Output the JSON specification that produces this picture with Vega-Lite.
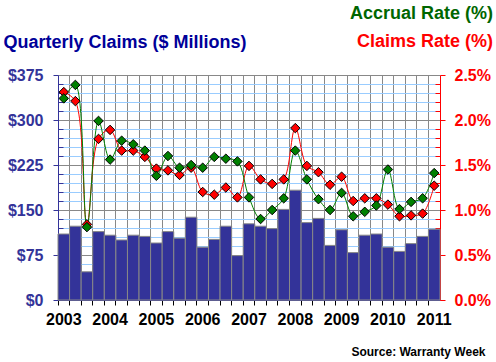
{
  "$schema": "https://vega.github.io/schema/vega-lite/v6.json",
  "width": 382,
  "height": 225,
  "autosize": {"type": "none"},
  "padding": {"left": 58, "top": 75, "right": 56, "bottom": 62},
  "background": "white",
  "config": {"view": {"stroke": null}, "font": "Liberation Sans"},
  "title": {
    "text": "Accrual Rate (%)",
    "subtitle": "Claims Rate (%)",
    "anchor": "end",
    "frame": "group",
    "dx": 53,
    "offset": -18,
    "color": "#006600",
    "subtitleColor": "#ff0000",
    "fontSize": 18,
    "subtitleFontSize": 18,
    "font": "Liberation Sans",
    "subtitleFont": "Liberation Sans",
    "fontWeight": "bold",
    "subtitleFontWeight": "bold",
    "subtitlePadding": 10
  },
  "data": {
    "values": [
      {"q": "2003Q1", "claims": 110, "claimsRate": 2.31, "accrualRate": 2.24},
      {"q": "2003Q2", "claims": 123, "claimsRate": 2.21, "accrualRate": 2.39},
      {"q": "2003Q3", "claims": 47, "claimsRate": 0.84, "accrualRate": 0.81},
      {"q": "2003Q4", "claims": 114, "claimsRate": 1.79, "accrualRate": 1.99},
      {"q": "2004Q1", "claims": 108, "claimsRate": 1.89, "accrualRate": 1.56},
      {"q": "2004Q2", "claims": 100, "claimsRate": 1.66, "accrualRate": 1.77},
      {"q": "2004Q3", "claims": 108, "claimsRate": 1.66, "accrualRate": 1.73},
      {"q": "2004Q4", "claims": 106, "claimsRate": 1.59, "accrualRate": 1.66},
      {"q": "2005Q1", "claims": 95, "claimsRate": 1.46, "accrualRate": 1.38},
      {"q": "2005Q2", "claims": 114, "claimsRate": 1.44, "accrualRate": 1.60},
      {"q": "2005Q3", "claims": 103, "claimsRate": 1.39, "accrualRate": 1.47},
      {"q": "2005Q4", "claims": 138, "claimsRate": 1.47, "accrualRate": 1.50},
      {"q": "2006Q1", "claims": 88, "claimsRate": 1.20, "accrualRate": 1.47},
      {"q": "2006Q2", "claims": 101, "claimsRate": 1.17, "accrualRate": 1.59},
      {"q": "2006Q3", "claims": 123, "claimsRate": 1.25, "accrualRate": 1.57},
      {"q": "2006Q4", "claims": 74, "claimsRate": 1.14, "accrualRate": 1.54},
      {"q": "2007Q1", "claims": 127, "claimsRate": 1.49, "accrualRate": 1.14},
      {"q": "2007Q2", "claims": 123, "claimsRate": 1.34, "accrualRate": 0.90},
      {"q": "2007Q3", "claims": 119, "claimsRate": 1.29, "accrualRate": 1.00},
      {"q": "2007Q4", "claims": 151, "claimsRate": 1.34, "accrualRate": 1.13},
      {"q": "2008Q1", "claims": 183, "claimsRate": 1.91, "accrualRate": 1.66},
      {"q": "2008Q2", "claims": 129, "claimsRate": 1.49, "accrualRate": 1.34},
      {"q": "2008Q3", "claims": 136, "claimsRate": 1.42, "accrualRate": 1.12},
      {"q": "2008Q4", "claims": 91, "claimsRate": 1.28, "accrualRate": 1.00},
      {"q": "2009Q1", "claims": 117, "claimsRate": 1.37, "accrualRate": 1.19},
      {"q": "2009Q2", "claims": 79, "claimsRate": 1.10, "accrualRate": 0.93},
      {"q": "2009Q3", "claims": 108, "claimsRate": 1.13, "accrualRate": 0.98},
      {"q": "2009Q4", "claims": 110, "claimsRate": 1.13, "accrualRate": 1.05},
      {"q": "2010Q1", "claims": 88, "claimsRate": 1.06, "accrualRate": 1.45},
      {"q": "2010Q2", "claims": 81, "claimsRate": 0.93, "accrualRate": 1.01},
      {"q": "2010Q3", "claims": 94, "claimsRate": 0.94, "accrualRate": 1.09},
      {"q": "2010Q4", "claims": 106, "claimsRate": 0.96, "accrualRate": 1.13},
      {"q": "2011Q1", "claims": 118, "claimsRate": 1.27, "accrualRate": 1.41}
    ]
  },
  "encoding": {
    "x": {
      "field": "q",
      "type": "ordinal",
      "sort": null,
      "scale": {"type": "band", "paddingInner": 0, "paddingOuter": 0},
      "axis": {
        "title": "Source: Warranty Week",
        "titleX": 427,
        "titleY": 51,
        "titleAlign": "right",
        "titleAnchor": null,
        "titleBaseline": "middle",
        "titleFontSize": 12,
        "titleFont": "Liberation Sans",
        "titleFontWeight": "bold",
        "titleColor": "black",
        "bandPosition": 0,
        "labelExpr": "substring(datum.value,4)=='Q1' ? substring(datum.value,0,4) : ''",
        "labelAngle": 0,
        "labelDx": 5.8,
        "labelFontSize": 16,
        "labelFontWeight": "bold",
        "labelColor": "black",
        "labelFont": "Liberation Sans",
        "labelPadding": 6,
        "labelOverlap": false,
        "labelBound": false,
        "grid": true,
        "gridColor": "#888888",
        "gridWidth": 1,
        "tickColor": "black",
        "tickSize": 5,
        "domainColor": "#333399"
      }
    }
  },
  "layer": [
    {
      "mark": {"type": "bar", "color": "#333399", "stroke": "#888888", "strokeWidth": 1},
      "encoding": {
        "y": {
          "field": "claims",
          "type": "quantitative",
          "scale": {"domain": [0, 375], "nice": false},
          "axis": {
            "values": [0, 15, 30, 45, 60, 75, 90, 105, 120, 135, 150, 165, 180, 195, 210, 225, 240, 255, 270, 285, 300, 315, 330, 345, 360, 375],
            "labelExpr": "datum.value % 75 === 0 ? '$' + datum.value : ''",
            "labelOverlap": false,
            "title": "Quarterly Claims ($ Millions)",
            "titleAngle": 0,
            "titleAlign": "left",
            "titleBaseline": "middle",
            "titleX": -55,
            "titleY": -33,
            "titleFontSize": 18,
            "titleFont": "Liberation Sans",
            "titleFontWeight": "bold",
            "titleColor": "#000099",
            "labelFontSize": 16,
            "labelFont": "Liberation Sans",
            "labelFontWeight": "bold",
            "labelColor": "#333399",
            "labelPadding": 10,
            "domainColor": "#333399",
            "tickColor": "#333399",
            "tickSize": {"condition": {"test": "datum.value % 75 === 0", "value": 5}, "value": -5},
            "grid": true,
            "gridColor": {"condition": {"test": "datum.value % 75 === 0", "value": "#888888"}, "value": "#99ccff"}
          }
        }
      }
    },
    {
      "transform": [{"fold": ["claimsRate", "accrualRate"], "as": ["series", "rate"]}],
      "encoding": {
        "y": {
          "field": "rate",
          "type": "quantitative",
          "scale": {"domain": [0, 2.5], "nice": false},
          "axis": {
            "orient": "right",
            "values": [0, 0.1, 0.2, 0.3, 0.4, 0.5, 0.6, 0.7, 0.8, 0.9, 1.0, 1.1, 1.2, 1.3, 1.4, 1.5, 1.6, 1.7, 1.8, 1.9, 2.0, 2.1, 2.2, 2.3, 2.4, 2.5],
            "labelExpr": "abs(datum.value*2 - round(datum.value*2)) < 0.001 ? format(datum.value, '.1f') + '%' : ''",
            "labelOverlap": false,
            "title": null,
            "grid": false,
            "labelFontSize": 16,
            "labelFont": "Liberation Sans",
            "labelFontWeight": "bold",
            "labelColor": "#ff0000",
            "labelPadding": 9,
            "domainColor": "#ff0000",
            "tickColor": "#ff0000",
            "tickSize": {"condition": {"test": "abs(datum.value*2 - round(datum.value*2)) < 0.001", "value": 5}, "value": -5}
          }
        },
        "color": {
          "field": "series",
          "type": "nominal",
          "scale": {"domain": ["claimsRate", "accrualRate"], "range": ["#ff0000", "#008000"]},
          "legend": null
        }
      },
      "layer": [
        {"mark": {"type": "line", "interpolate": "catmull-rom", "strokeWidth": 1}},
        {"mark": {"type": "point", "shape": "diamond", "filled": true, "size": 90, "stroke": "black", "strokeWidth": 1, "opacity": 1}}
      ]
    }
  ],
  "resolve": {"scale": {"y": "independent"}}
}
